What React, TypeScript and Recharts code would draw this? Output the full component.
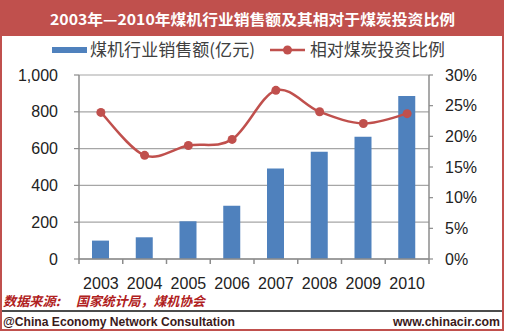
import React from 'react';
import { ComposedChart, Bar, Line, XAxis, YAxis, CartesianGrid } from 'recharts';

const years = ['2003', '2004', '2005', '2006', '2007', '2008', '2009', '2010'];
const sales = [100, 118, 205, 290, 492, 583, 665, 886];
const ratio = [23.9, 16.9, 18.5, 19.5, 27.5, 24.0, 22.1, 23.7];
const leftTicks = [0, 200, 400, 600, 800, 1000];
const rightTicks = [0, 5, 10, 15, 20, 25, 30];

const titleText = '2003年—2010年煤机行业销售额及其相对于煤炭投资比例';
const seriesNames = ['煤机行业销售额(亿元)', '相对煤炭投资比例'];
const sourceLabel = '数据来源:';
const sourceText = '国家统计局，煤机协会';
const footerLeft = '@China Economy Network Consultation';
const footerRight = 'www.chinacir.com';

const data = years.map((y, i) => ({ year: y, sales: sales[i], ratio: ratio[i] }));

const RED = '#C0504D';
const BLUE = '#4F81BD';
const AXIS = '#8C8C8C';
const FONT = '"Liberation Sans", Arial, sans-serif';
const CJK = '"Noto Sans CJK SC", "Noto Sans", sans-serif';

const BAND = (429 - 79) / years.length;
const X_TICK_MARGIN = 19;

// Catmull-Rom style smoothing (like Excel's smoothed line)
const smoothCurve = (context: any) => {
  let pts: number[][] = [];
  return {
    areaStart() {},
    areaEnd() {},
    lineStart() {
      pts = [];
    },
    point(x: number, y: number) {
      pts.push([+x, +y]);
    },
    lineEnd() {
      if (!pts.length) return;
      context.moveTo(pts[0][0], pts[0][1]);
      for (let i = 0; i < pts.length - 1; i++) {
        const p0 = pts[i - 1] || pts[i];
        const p1 = pts[i];
        const p2 = pts[i + 1];
        const p3 = pts[i + 2] || p2;
        context.bezierCurveTo(
          p1[0] + (p2[0] - p0[0]) / 6,
          p1[1] + (p2[1] - p0[1]) / 6,
          p2[0] - (p3[0] - p1[0]) / 6,
          p2[1] - (p3[1] - p1[1]) / 6,
          p2[0],
          p2[1]
        );
      }
    },
  };
};

const XTick = (props: any) => {
  const { x, y, payload, index } = props;
  const y0 = y - X_TICK_MARGIN;
  return (
    <g>
      <line x1={x - BAND / 2} x2={x - BAND / 2} y1={y0} y2={y0 + 5} stroke={AXIS} strokeWidth={1.5} />
      {index === years.length - 1 && (
        <line x1={x + BAND / 2} x2={x + BAND / 2} y1={y0} y2={y0 + 5} stroke={AXIS} strokeWidth={1.5} />
      )}
      <text x={x} y={y} dy="0.71em" textAnchor="middle" fontSize={16} fontFamily={FONT} fill="#222">
        {payload.value}
      </text>
    </g>
  );
};

export default function App() {
  return (
    <div style={{ position: 'absolute', left: 0, top: 0, width: 506, height: 333, background: '#fff', overflow: 'hidden' }}>
      <div style={{ position: 'absolute', left: 0, top: 0, width: 504, height: 36, background: RED }} />
      <div style={{ position: 'absolute', left: 0, top: 0 }}>
        <ComposedChart width={506} height={333} data={data} margin={{ top: 75, bottom: 44, left: 19, right: 17 }}>
          <CartesianGrid yAxisId="left" vertical={false} stroke="#A6A6A6" strokeWidth={1.2} />
          <XAxis
            dataKey="year"
            height={30}
            axisLine={{ stroke: AXIS, strokeWidth: 1.5 }}
            tickLine={false}
            tickSize={0}
            tickMargin={X_TICK_MARGIN}
            tick={<XTick />}
            interval={0}
          />
          <YAxis
            yAxisId="left"
            width={60}
            domain={[0, 1000]}
            ticks={leftTicks}
            tickFormatter={(v: number) => v.toLocaleString('en-US')}
            axisLine={{ stroke: AXIS, strokeWidth: 1.5 }}
            tickLine={{ stroke: AXIS, strokeWidth: 1.2 }}
            tickSize={5}
            tickMargin={16}
            tick={{ fontSize: 16, fontFamily: FONT, fill: '#222' }}
          />
          <YAxis
            yAxisId="right"
            orientation="right"
            width={60}
            domain={[0, 30]}
            ticks={rightTicks}
            tickFormatter={(v: number) => `${v}%`}
            axisLine={{ stroke: AXIS, strokeWidth: 1.5 }}
            tickLine={{ stroke: AXIS, strokeWidth: 1.2 }}
            tickSize={4}
            tickMargin={12}
            tick={{ fontSize: 16, fontFamily: FONT, fill: '#222', textAnchor: 'start' }}
          />
          <Bar yAxisId="left" dataKey="sales" fill={BLUE} barSize={17} isAnimationActive={false} />
          <Line
            yAxisId="right"
            type={smoothCurve as any}
            dataKey="ratio"
            stroke={RED}
            strokeWidth={2.5}
            dot={{ r: 4.5, fill: RED, stroke: RED, strokeWidth: 0 }}
            isAnimationActive={false}
          />
        </ComposedChart>
      </div>
      <svg width={506} height={333} style={{ position: 'absolute', left: 0, top: 0, pointerEvents: 'none' }}>
        <rect x={1} y={1} width={502} height={329} fill="none" stroke={RED} strokeWidth={2} />
        <text x={50} y={25} fontSize={15} fontWeight="bold" fontFamily={CJK} fill="#fff" textLength={405} lengthAdjust="spacingAndGlyphs">
          {titleText}
        </text>
        <rect x={52} y={47} width={35} height={6} fill={BLUE} />
        <text x={90} y={56} fontSize={17} fontFamily={CJK} fill="#404040" textLength={165} lengthAdjust="spacingAndGlyphs">
          {seriesNames[0]}
        </text>
        <line x1={270} x2={305} y1={50} y2={50} stroke={RED} strokeWidth={2.5} />
        <circle cx={287.5} cy={50} r={4.5} fill={RED} />
        <text x={310} y={56} fontSize={17} fontFamily={CJK} fill="#404040" textLength={135} lengthAdjust="spacingAndGlyphs">
          {seriesNames[1]}
        </text>
        <text x={3} y={306} fontSize={13} fontWeight="bold" fontStyle="italic" fontFamily={CJK} fill="#B02020" textLength={57} lengthAdjust="spacingAndGlyphs">
          {sourceLabel}
        </text>
        <text x={76} y={306} fontSize={13} fontWeight="bold" fontStyle="italic" fontFamily={CJK} fill="#B02020" textLength={129} lengthAdjust="spacingAndGlyphs">
          {sourceText}
        </text>
        <line x1={2} x2={502} y1={311} y2={311} stroke="#111" strokeWidth={1.5} />
        <text x={3} y={326} fontSize={12} fontWeight="bold" fontFamily={FONT} fill="#3a1a1a" textLength={232} lengthAdjust="spacingAndGlyphs">
          {footerLeft}
        </text>
        <text x={393} y={326} fontSize={12} fontWeight="bold" fontFamily={FONT} fill="#3a1a1a" textLength={107} lengthAdjust="spacingAndGlyphs">
          {footerRight}
        </text>
      </svg>
    </div>
  );
}
